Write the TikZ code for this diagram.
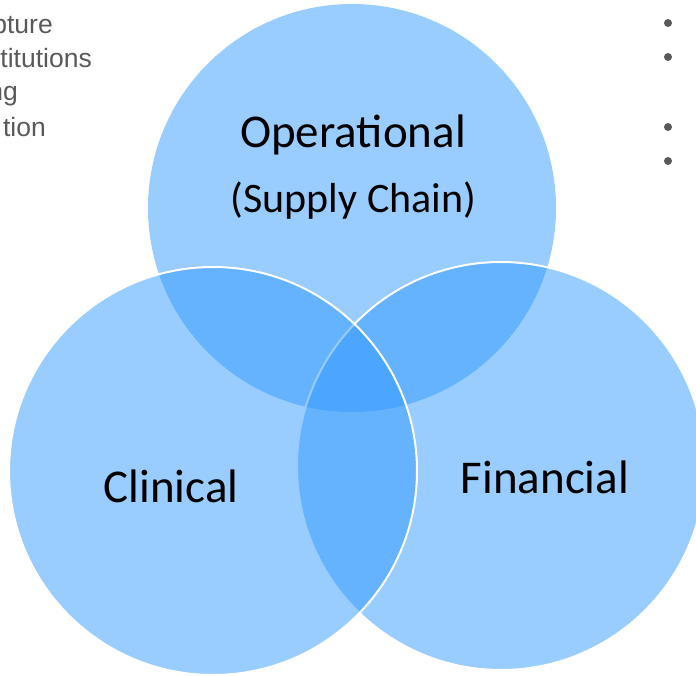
\documentclass[tikz,border=0pt]{standalone}
\usepackage{fontspec}
\setmainfont{Carlito}
\newfontfamily\notefont{Liberation Sans}
\begin{document}
\begin{tikzpicture}[x=1pt,y=-1pt,
  set/.style={circle, inner sep=0pt, minimum size=408pt, fill=setblue, fill opacity=0.5},
  rimmed/.style={set, draw=white, line width=2pt},
  setlabel/.style={anchor=base, text=black, inner sep=0pt, font=\fontsize{47}{47}\selectfont},
  sublabel/.style={setlabel, font=\fontsize{42}{42}\selectfont},
  note/.style={anchor=base east, text=notegray, font=\notefont\fontsize{26.5}{26.5}\selectfont, inner sep=0pt},
  dot/.style={circle, fill=notegray, inner sep=0pt, minimum size=8pt}]
\definecolor{setblue}{RGB}{51,153,255}
\definecolor{notegray}{RGB}{89,89,89}
\useasboundingbox (0,0) rectangle (696,676);

% the three overlapping sets
\node[set]    (oper) at (352,208) {};
\node[rimmed] (fin)  at (501,466) {};
\node[rimmed] (clin) at (213,471) {};

% set labels
\node[setlabel] (operlbl)   at (353,148) {Operational};
\node[sublabel] (supplylbl) at (353.5,213) {(Supply Chain)};
\node[setlabel] (clinlbl)   at (171,502) {Clinical};
\node[setlabel] (finlbl)    at (545,493) {Financial};

% notes running in from the left edge
\node[note] (n1) at (53,34)  {pture};
\node[note] (n2) at (92,68)  {titutions};
\node[note] (n3) at (18,101) {ng};
\node[note] (n4) at (46,137) {tion};

% bullets on the right edge
\node[dot] (b1) at (668,23)  {};
\node[dot] (b2) at (668,57)  {};
\node[dot] (b3) at (668,127) {};
\node[dot] (b4) at (668,161) {};
\end{tikzpicture}
\end{document}
